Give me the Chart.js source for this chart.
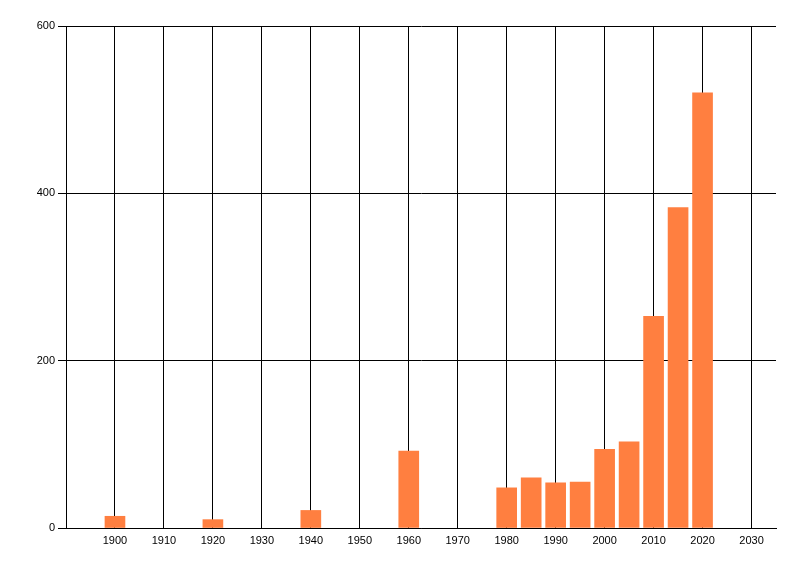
<!DOCTYPE html>
<html>
<head>
<meta charset="utf-8">
<script src="https://cdn.jsdelivr.net/npm/chart.js@4"></script>
<style>
  html, body { margin: 0; padding: 0; background: #fff; }
  canvas { display: block; }
</style>
</head>
<body>
<canvas id="chart" width="800" height="576"></canvas>
<script>
// Daten
const years = [1900, 1920, 1940, 1960, 1980, 1985, 1990, 1995, 2000, 2005, 2010, 2015, 2020];
const counts = [14, 10, 21, 92, 48, 60, 54, 55, 94, 103, 253, 383, 520];
const xTicks = [1900, 1910, 1920, 1930, 1940, 1950, 1960, 1970, 1980, 1990, 2000, 2010, 2020, 2030];
const yTicks = [0, 200, 400, 600];

Chart.defaults.font.family = '"Liberation Sans", Arial, sans-serif';
Chart.defaults.font.size = 11;
Chart.defaults.color = '#000';

const ctx = document.getElementById('chart').getContext('2d');

new Chart(ctx, {
    type: 'bar',
    data: {
        datasets: [{
            data: years.map((y, i) => ({ x: y, y: counts[i] })),
            backgroundColor: '#ff7f40',
            borderWidth: 0,
            barThickness: 20
        }]
    },
    options: {
        responsive: false,
        animation: false,
        devicePixelRatio: 1,
        layout: { padding: { top: 26, right: 24, left: 0, bottom: 0 } },
        plugins: {
            legend: { display: false },
            tooltip: { enabled: false }
        },
        scales: {
            x: {
                type: 'linear',
                min: 1890,
                max: 2035,
                offset: false,
                afterBuildTicks: s => { s.ticks = xTicks.map(v => ({ value: v })); },
                afterFit: s => { s.height = 48; },
                ticks: { padding: 6, autoSkip: false, callback: v => String(v) },
                grid: { color: '#000', lineWidth: 1, drawTicks: false, offset: false },
                border: { color: '#000', width: 1 }
            },
            y: {
                min: 0,
                max: 600,
                afterBuildTicks: s => { s.ticks = yTicks.map(v => ({ value: v })); },
                afterFit: s => { s.width = 66; },
                ticks: { padding: 3 },
                grid: { color: '#000', lineWidth: 1, tickLength: 8 },
                border: { color: '#000', width: 1 }
            }
        }
    }
});
</script>
</body>
</html>
